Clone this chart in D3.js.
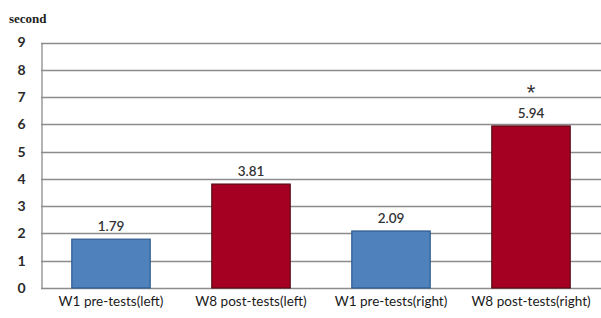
<!DOCTYPE html>
<html>
<head>
<meta charset="utf-8">
<script src="https://cdn.jsdelivr.net/npm/d3@7"></script>
<style>
  body { margin: 0; background: #fff; }
  svg { display: block; }
</style>
</head>
<body>
<div id="chart"></div>
<script>
var categories = ['W1 pre-tests(left)', 'W8 post-tests(left)', 'W1 pre-tests(right)', 'W8 post-tests(right)'];
var values = [1.79, 3.81, 2.09, 5.94];
var value_labels = ['1.79', '3.81', '2.09', '5.94'];
var significant = [false, false, false, true];
var y_ticks = [0, 1, 2, 3, 4, 5, 6, 7, 8, 9];

var WIDTH = 601, HEIGHT = 318;
var margin = { top: 42.5, right: 0, bottom: 30, left: 41 };

var svg = d3.select('#chart').append('svg')
    .attr('width', WIDTH)
    .attr('height', HEIGHT);

var x = d3.scaleBand()
    .domain(categories)
    .range([margin.left, WIDTH - margin.right])
    .paddingInner(0.44)
    .paddingOuter(0.22);

var y = d3.scaleLinear()
    .domain([0, 9])
    .range([HEIGHT - margin.bottom, margin.top]);

// gridlines
svg.append('g')
    .selectAll('line')
    .data(y_ticks)
    .enter().append('line')
    .attr('x1', margin.left)
    .attr('x2', WIDTH)
    .attr('y1', function(d) { return Math.round(y(d)) + 0.5; })
    .attr('y2', function(d) { return Math.round(y(d)) + 0.5; })
    .attr('stroke', '#8c8c8c')
    .attr('stroke-width', 1.3);

// y axis
var y_axis = svg.append('g')
    .attr('transform', 'translate(' + (margin.left + 0.5) + ',0)')
    .call(d3.axisLeft(y).tickValues(y_ticks).tickSize(0).tickPadding(16));
y_axis.select('.domain').attr('stroke', '#8c8c8c').attr('stroke-width', 1.3);
y_axis.selectAll('text')
    .attr('font-family', 'Lato, "Open Sans", sans-serif')
    .attr('font-weight', 'bold')
    .attr('font-size', 14)
    .attr('fill', '#2a2a2a');

// bars
svg.append('g')
    .selectAll('rect')
    .data(values)
    .enter().append('rect')
    .attr('x', function(d, i) { return x(categories[i]); })
    .attr('y', function(d) { return y(d); })
    .attr('width', x.bandwidth())
    .attr('height', function(d) { return y(0) - y(d); })
    .attr('fill', function(d, i) { return i % 2 ? '#a50021' : '#4f81bd'; })
    .attr('stroke', function(d, i) { return i % 2 ? '#5a0a14' : '#2e5a8e'; })
    .attr('stroke-width', 1.2);

// value labels
svg.append('g')
    .selectAll('text')
    .data(values)
    .enter().append('text')
    .attr('x', function(d, i) { return x(categories[i]) + x.bandwidth() / 2; })
    .attr('y', function(d) { return y(d) - 8; })
    .attr('text-anchor', 'middle')
    .attr('font-family', 'Lato, "Open Sans", sans-serif')
    .attr('font-weight', 600)
    .attr('font-size', 13.5)
    .attr('fill', '#333')
    .text(function(d, i) { return value_labels[i]; });

// significance marks
svg.append('g')
    .selectAll('text')
    .data(values.filter(function(d, i) { return significant[i]; }))
    .enter().append('text')
    .attr('x', function(d) { return x(categories[values.indexOf(d)]) + x.bandwidth() / 2; })
    .attr('y', function(d) { return y(d) - 26; })
    .attr('text-anchor', 'middle')
    .attr('font-family', '"Liberation Sans", sans-serif')
    .attr('font-size', 22)
    .attr('fill', '#333')
    .text('*');

// x axis labels
svg.append('g')
    .selectAll('text')
    .data(categories)
    .enter().append('text')
    .attr('x', function(d) { return x(d) + x.bandwidth() / 2; })
    .attr('y', HEIGHT - 12)
    .attr('text-anchor', 'middle')
    .attr('font-family', 'Lato, "Open Sans", sans-serif')
    .attr('font-size', 13.5)
    .attr('fill', '#1a1a1a')
    .text(function(d) { return d; });

// unit label
svg.append('text')
    .attr('x', 9)
    .attr('y', 23)
    .attr('font-family', '"Liberation Serif", serif')
    .attr('font-weight', 'bold')
    .attr('font-size', 13)
    .attr('fill', '#222')
    .text('second');
</script>
</body>
</html>
